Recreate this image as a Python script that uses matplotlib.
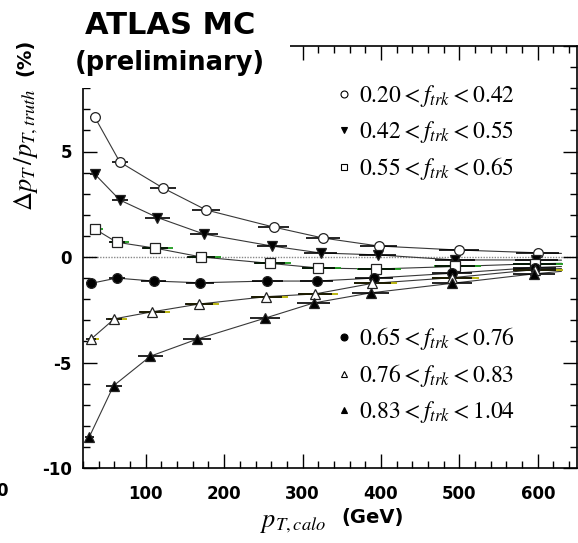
import matplotlib
matplotlib.use("Agg")
import matplotlib.pyplot as plt
from matplotlib.lines import Line2D
from matplotlib.patches import Rectangle
from matplotlib.ticker import MultipleLocator

plt.rcParams["mathtext.fontset"] = "stix"
plt.rcParams["font.family"] = "DejaVu Sans"
plt.rcParams["axes.unicode_minus"] = False

W, H = 578, 543

# f_trk bins
labels = [
    r"$0.20 < f_{trk} < 0.42$",
    r"$0.42 < f_{trk} < 0.55$",
    r"$0.55 < f_{trk} < 0.65$",
    r"$0.65 < f_{trk} < 0.76$",
    r"$0.76 < f_{trk} < 0.83$",
    r"$0.83 < f_{trk} < 1.04$",
]

# mean pT,calo per bin (GeV) and relative pT shift (%)
x_a = [35, 67, 122, 177, 263, 326, 397, 499, 600]
y_a = [6.63, 4.50, 3.27, 2.23, 1.42, 0.90, 0.52, 0.33, 0.20]
x_b = [35, 67, 115, 174, 261, 323, 396, 494, 598]
y_b = [3.93, 2.70, 1.87, 1.09, 0.52, 0.19, 0.10, -0.14, -0.14]
x_c = [35, 63, 112, 171, 258, 320, 394, 494, 596]
y_c = [1.33, 0.70, 0.42, 0.00, -0.30, -0.52, -0.57, -0.45, -0.32]
x_d = [30, 63, 110, 169, 255, 318, 391, 491, 596]
y_d = [-1.25, -1.00, -1.14, -1.22, -1.14, -1.14, -1.00, -0.77, -0.50]
x_e = [30, 60, 108, 168, 254, 316, 389, 491, 596]
y_e = [-3.90, -2.93, -2.60, -2.23, -1.88, -1.75, -1.25, -0.98, -0.60]
x_f = [28, 59, 106, 165, 252, 314, 387, 490, 595]
y_f = [-8.53, -6.10, -4.70, -3.90, -2.90, -2.18, -1.70, -1.25, -0.80]

# horizontal half-widths of the pT bins (GeV)
x_err = [7, 12, 19, 21, 23, 25, 28, 30, 32]

# value of each trend curve at its right end
x_end = 630
y_end = [0.17, -0.15, -0.30, -0.45, -0.55, -0.68]

series = [
    (x_a, y_a, "o", "white", "black"),
    (x_b, y_b, "v", "black", "black"),
    (x_c, y_c, "s", "white", "#1c9a1c"),
    (x_d, y_d, "o", "black", "black"),
    (x_e, y_e, "^", "white", "#b5b000"),
    (x_f, y_f, "^", "black", "black"),
]

fig = plt.figure(figsize=(W / 100, H / 100), dpi=100)
ax = fig.add_axes([83 / W, 1 - 468 / H, (577 - 83) / W, (468 - 46) / H])

ax.axhline(0, color="#888888", lw=1.0, ls=(0, (1, 1)), zorder=1)

for (xs, ys, mk, fc, barc), ye in zip(series, y_end):
    ax.plot(list(xs) + [x_end], list(ys) + [ye], color="#383838", lw=0.8, zorder=2)
    if barc != "black":
        ax.errorbar([v + 4 for v in xs], ys, xerr=x_err, fmt="none",
                    ecolor=barc, elinewidth=1.3, capsize=0, zorder=2.5)
    ax.errorbar(xs, ys, xerr=[e * 0.85 for e in x_err], fmt="none",
                ecolor="black", elinewidth=1.2, capsize=0, zorder=3)
    ms = 7 if mk == "o" else 6.5
    ax.plot(xs, ys, ls="none", marker=mk, ms=ms, mfc=fc, mec="#222222",
            mew=0.9, zorder=4)

ax.set_xlim(20, 650)
ax.set_ylim(-10, 10)
ax.xaxis.set_major_locator(MultipleLocator(100))
ax.xaxis.set_minor_locator(MultipleLocator(20))
ax.yaxis.set_major_locator(MultipleLocator(5))
ax.yaxis.set_minor_locator(MultipleLocator(1))
ax.tick_params(which="both", direction="in", top=True, right=True, width=1.0,
               labelsize=12)
ax.tick_params(which="major", length=10)
ax.tick_params(which="minor", length=5)
ax.tick_params(axis="x", pad=12)
ax.tick_params(axis="y", pad=8)
for lab in ax.get_xticklabels() + ax.get_yticklabels():
    lab.set_fontweight("bold")
for sp in ax.spines.values():
    sp.set_linewidth(1.2)

# legends
handles = [Line2D([], [], ls="none", marker=mk, ms=5, mfc=fc, mec="black", mew=0.8)
           for (_, _, mk, fc, _) in series]
leg_kw = dict(frameon=False, fontsize=17, handlelength=0.5, handletextpad=0.4,
              borderpad=0, borderaxespad=0, labelspacing=0.43)
leg1 = ax.legend(handles[:3], labels[:3], loc="upper left",
                 bbox_to_anchor=(338 / W, 1 - 83 / H), bbox_transform=fig.transFigure,
                 **leg_kw)
ax.add_artist(leg1)
ax.legend(handles[3:], labels[3:], loc="upper left",
          bbox_to_anchor=(338 / W, 1 - 325 / H), bbox_transform=fig.transFigure,
          **leg_kw)

# axis titles
fig.text(293 / W, 1 - 522 / H, r"$p_{T,calo}$", fontsize=19, ha="center", va="center")
fig.text(373 / W, 1 - 518 / H, "(GeV)", fontsize=14, fontweight="bold",
         ha="center", va="center")
fig.text(26 / W, 1 - 150 / H, r"$\Delta p_T\, /p_{T,truth}$", fontsize=19,
         rotation=90, ha="center", va="center")
fig.text(25 / W, 1 - 57 / H, "(%)", fontsize=14, fontweight="bold",
         rotation=90, ha="center", va="center")

# header block over the top-left corner of the frame
fig.add_artist(Rectangle((40 / W, 1 - 88 / H), 250 / W, 88 / H,
                         transform=fig.transFigure, fc="white", ec="none", zorder=1.5))
fig.text(170 / W, 1 - 25 / H, "ATLAS MC", fontsize=22, fontweight="bold",
         ha="center", va="center", zorder=3)
fig.text(170 / W, 1 - 63 / H, "(preliminary)", fontsize=18.5, fontweight="bold",
         ha="center", va="center", zorder=3)

# leftover tick label at the left edge
fig.text(8 / W, 1 - 491 / H, "0", fontsize=12, fontweight="bold",
         ha="right", va="center")

fig.savefig("out.png", dpi=100)
